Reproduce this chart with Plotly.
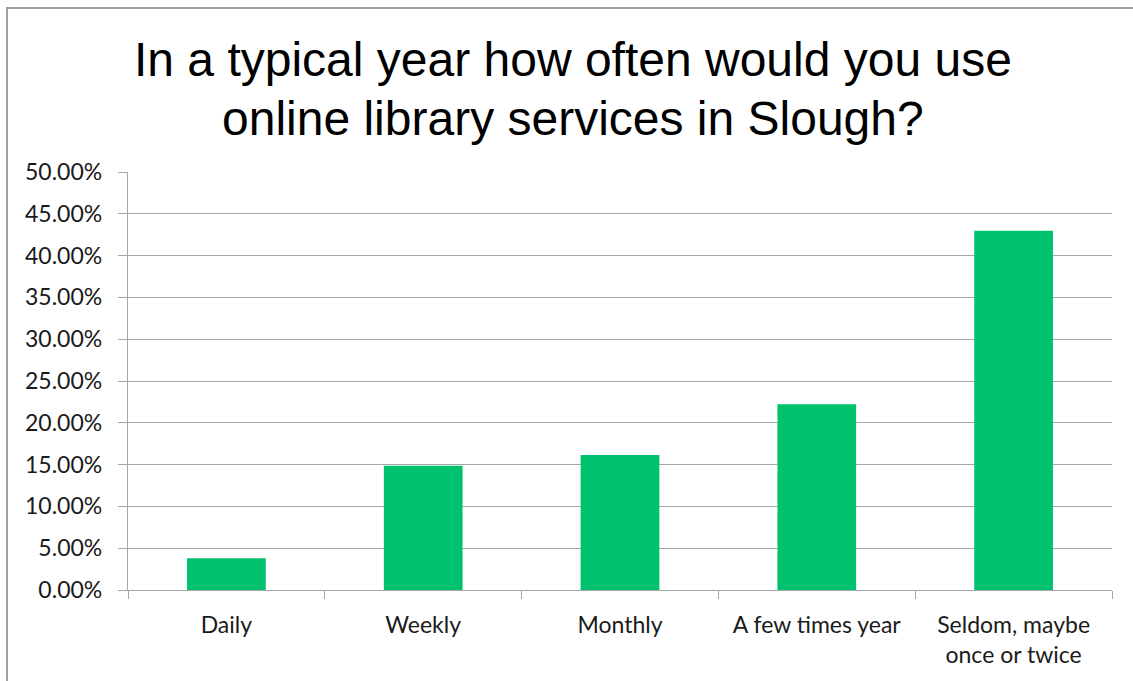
import plotly.graph_objects as go

# Survey responses: frequency of online library service use
categories = ["Daily", "Weekly", "Monthly", "A few times year", "Seldom, maybe<br>once or twice"]
shares = [0.0379, 0.1487, 0.1615, 0.2221, 0.4298]
y_ticks = [i * 0.05 for i in range(11)]

title_lines = ["In a typical year how often would you use", "online library services in Slough?"]

W, H = 1133, 681
L, R, T, B = 128, 21, 172, 91
plot_w = W - L - R
plot_h = H - T - B

def px_to_paper_x(px):
    return (px - L) / plot_w

def px_to_paper_y(py):
    return (H - B - py) / plot_h

GRID = "#A6A6A6"
BAR = "#00C16E"
TICK_FONT = dict(family="Lato, Carlito, sans-serif", size=23, color="#1a1a1a")

fig = go.Figure(
    go.Bar(
        x=categories,
        y=shares,
        marker=dict(color=BAR, line=dict(width=0)),
        hoverinfo="x+y",
    )
)

fig.update_layout(
    width=W,
    height=H,
    margin=dict(l=L, r=R, t=T, b=B, pad=0),
    paper_bgcolor="white",
    plot_bgcolor="white",
    bargap=0.6,
    showlegend=False,
    xaxis=dict(
        type="category",
        showline=True,
        linecolor=GRID,
        linewidth=1.3,
        ticks="outside",
        tickson="boundaries",
        ticklen=8,
        tickcolor=GRID,
        tickwidth=1.3,
        showgrid=False,
        tickfont=TICK_FONT,
        ticklabelstandoff=14,
    ),
    yaxis=dict(
        range=[0, 0.5],
        tickvals=y_ticks,
        tickformat=".2%",
        showline=True,
        linecolor=GRID,
        linewidth=1.3,
        ticks="outside",
        ticklen=9,
        tickcolor=GRID,
        tickwidth=1.3,
        showgrid=True,
        gridcolor=GRID,
        gridwidth=1.3,
        zeroline=False,
        tickfont=TICK_FONT,
        ticklabelstandoff=11,
    ),
)

# Title, two centred lines
for line, mid_y in zip(title_lines, [59, 119]):
    fig.add_annotation(
        text=line,
        xref="paper",
        yref="paper",
        x=px_to_paper_x(573),
        y=px_to_paper_y(mid_y),
        xanchor="center",
        yanchor="middle",
        showarrow=False,
        font=dict(family="Liberation Sans, Arial, sans-serif", size=48, color="#000000"),
    )

# Chart frame
fig.add_shape(
    type="rect",
    xref="paper",
    yref="paper",
    x0=px_to_paper_x(7),
    y0=px_to_paper_y(H + 10),
    x1=px_to_paper_x(W + 10),
    y1=px_to_paper_y(8),
    line=dict(color="#A0A0A0", width=2),
    fillcolor="rgba(0,0,0,0)",
    layer="below",
)

fig.write_html("out.html")
